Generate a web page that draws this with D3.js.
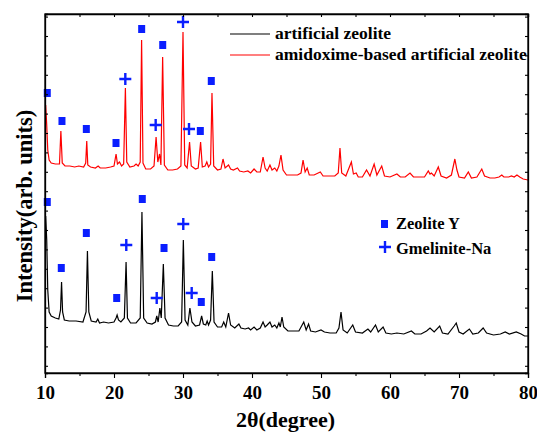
<!DOCTYPE html>
<html>
<head>
<meta charset="utf-8">
<script src="https://cdn.jsdelivr.net/npm/d3@7"></script>
<style>
  html, body { margin: 0; padding: 0; background: #fff; }
  svg { display: block; }
</style>
</head>
<body>
<div id="chart"></div>
<script>
// XRD patterns, [2θ, intensity (arb.)]
const artificialZeolite = [
  [10.1,157],[10.25,133],[10.4,83],[10.6,61],[10.9,57],[11.5,55],[12.0,54],[12.25,63],[12.4,91],[12.55,61],[12.8,53],
  [13.5,52],[14.5,52],[15.5,51],[15.95,61],[16.15,122],[16.35,61],[16.7,52],[17.4,51],[17.65,54],[17.9,50],[18.5,51],
  [19.2,50],[20.0,51],[20.3,55],[20.45,58],[20.65,53],[21.0,51],[21.5,55],[21.75,111],[21.95,55],[22.4,50],[23.2,50],
  [23.8,55],[24.05,161],[24.3,55],[24.8,50],[25.5,49],[26.0,51],[26.2,57],[26.4,51],[26.65,65],[26.85,55],[27.15,109],
  [27.4,55],[27.9,48],[28.6,47],[29.3,47],[29.8,51],[30.05,133],[30.3,53],[30.7,48],[31.0,65],[31.3,51],[31.8,47],
  [32.4,48],[32.7,57],[32.95,49],[33.3,48],[33.5,52],[33.7,48],[34.0,53],[34.25,102],[34.5,51],[35.0,46],[35.6,46],
  [35.9,51],[36.2,46],[36.6,60],[36.9,48],[37.5,45],[38.1,49],[38.4,45],[39.0,44],[39.5,45],[39.8,43],[40.3,46],
  [40.7,43],[41.2,45],[41.6,51],[41.9,46],[42.2,48],[42.6,51],[42.9,46],[43.3,48],[43.6,45],[43.9,50],[44.1,46],
  [44.35,56],[44.6,46],[45.2,42],[46.0,42],[46.8,42],[47.5,51],[47.85,43],[48.2,49],[48.5,42],[49.2,41],[50.0,43],
  [50.5,41],[51.3,40],[52.2,40],[52.6,45],[52.9,61],[53.2,43],[53.8,40],[54.6,48],[55.0,41],[56.0,40],[56.8,44],
  [57.2,41],[57.9,48],[58.3,41],[59.0,46],[59.4,40],[60.2,39],[61.0,40],[62.0,39],[63.1,42],[63.6,39],[64.5,39],
  [65.3,42],[65.8,45],[66.4,41],[67.2,47],[67.6,40],[68.4,39],[69.3,47],[69.6,50],[70.0,41],[70.6,39],[71.5,44],
  [72.0,39],[72.8,40],[73.5,45],[74.0,40],[75.0,38],[76.0,39],[76.7,41],[77.3,39],[78.3,41],[79.0,39],[79.5,37],[80.0,37]
];

const amidoximeZeolite = [
  [10.1,268],[10.25,248],[10.4,223],[10.6,213],[10.9,210],[11.5,209],[12.1,209],[12.3,242],[12.5,210],[12.9,207],
  [13.6,207],[14.3,206],[14.9,207],[15.6,206],[15.9,210],[16.05,232],[16.2,208],[16.6,206],[17.3,205],[17.7,207],
  [18.0,205],[18.8,205],[19.5,206],[20.0,207],[20.3,219],[20.5,209],[20.8,211],[21.1,207],[21.4,209],[21.65,285],
  [21.85,211],[22.3,206],[22.9,207],[23.2,209],[23.5,207],[23.8,211],[24.0,333],[24.2,210],[24.6,204],[25.3,204],
  [25.8,207],[26.1,236],[26.35,211],[26.6,219],[26.8,208],[27.05,316],[27.3,208],[27.8,203],[28.5,203],[29.2,204],
  [29.7,207],[30.0,341],[30.25,208],[30.6,205],[30.95,231],[31.2,207],[31.8,204],[32.2,205],[32.55,231],[32.8,206],
  [33.2,207],[33.45,211],[33.7,206],[34.0,209],[34.2,280],[34.45,207],[35.0,203],[35.5,204],[35.8,214],[36.1,205],
  [36.6,208],[36.9,204],[37.3,203],[37.9,205],[38.2,202],[38.8,201],[39.4,202],[39.8,200],[40.3,204],[40.7,201],
  [41.2,201],[41.6,216],[41.9,205],[42.2,202],[42.6,208],[42.9,203],[43.3,205],[43.6,202],[43.9,207],[44.2,218],
  [44.5,203],[45.0,198],[45.8,198],[46.6,198],[47.1,200],[47.4,213],[47.7,201],[48.0,205],[48.3,198],[49.0,198],
  [49.9,201],[50.3,197],[51.2,197],[52.0,197],[52.5,200],[52.75,225],[53.0,200],[53.6,197],[54.4,211],[54.7,199],
  [55.1,200],[55.4,196],[56.0,196],[56.6,203],[57.1,197],[57.7,209],[58.1,198],[58.8,207],[59.2,197],[60.0,196],
  [61.0,199],[61.5,196],[62.2,196],[62.9,200],[63.4,196],[64.2,196],[65.0,196],[65.55,202],[65.8,199],[66.0,200],
  [66.4,197],[67.0,206],[67.4,197],[68.2,195],[68.9,198],[69.4,214],[69.7,203],[70.0,196],[70.8,195],[71.35,201],
  [71.8,195],[72.6,196],[73.3,204],[73.7,197],[74.5,195],[75.2,195],[75.8,196],[76.2,198],[76.5,196],[77.2,196],
  [77.6,197],[78.0,196],[78.4,198],[78.8,196],[79.3,194],[80.0,193]
];

// phase markers [2θ, intensity]
const zeoliteYMarks = [
  [10.33,280],[12.46,252],[15.99,244],[20.29,230],[24.01,344],[27.06,328],[32.51,242],[34.1,292],
  [10.33,171],[12.36,105],[15.99,140],[20.39,75],[24.1,174],[27.25,125],[32.65,71],[34.16,116]
];
const gmeliniteMarks = [
  [21.64,294],[26.04,248],[30.0,351],[30.87,244],
  [21.78,128],[26.19,75],[30.04,149],[31.26,80]
];

const xTicks = [10, 20, 30, 40, 50, 60, 70, 80];
const seriesNames = ["artificial zeolite", "amidoxime-based artificial zeolite"];
const phaseNames = ["Zeolite Y", "Gmelinite-Na"];

const FONT = "'Liberation Serif', 'Times New Roman', 'DejaVu Serif', serif";

const width = 537, height = 436;
const margin = { top: 14, right: 9, bottom: 63, left: 45 };
const innerW = width - margin.left - margin.right;
const innerH = height - margin.top - margin.bottom;

const svg = d3.select("#chart").append("svg")
  .attr("width", width)
  .attr("height", height)
  .style("font-family", FONT)
  .style("font-weight", "bold");

const g = svg.append("g").attr("transform", `translate(${margin.left},${margin.top})`);

const x = d3.scaleLinear().domain([10, 80]).range([0, innerW]);
const y = d3.scaleLinear().domain([0, 359]).range([innerH, 0]);

const line = d3.line().x(d => x(d[0])).y(d => y(d[1]));

g.append("path").datum(artificialZeolite)
  .attr("fill", "none").attr("stroke", "#000").attr("stroke-width", 1.2)
  .attr("d", line);

g.append("path").datum(amidoximeZeolite)
  .attr("fill", "none").attr("stroke", "#ff0000").attr("stroke-width", 1.2)
  .attr("d", line);

// markers
const blue = "#0a1eff";
g.append("g").selectAll("rect").data(zeoliteYMarks).join("rect")
  .attr("x", d => x(d[0]) - 3.5)
  .attr("y", d => y(d[1]) - 4)
  .attr("width", 7).attr("height", 8)
  .attr("fill", blue);

g.append("g").selectAll("path").data(gmeliniteMarks).join("path")
  .attr("transform", d => `translate(${x(d[0])},${y(d[1])})`)
  .attr("d", "M-6,0H6M0,-6V6")
  .attr("stroke", blue).attr("stroke-width", 2.4).attr("fill", "none");

// axes
const xAxisB = d3.axisBottom(x).tickValues(d3.range(10, 81, 5))
  .tickSize(5).tickFormat(d => xTicks.includes(d) ? d : "");
const xa = g.append("g").attr("transform", `translate(0,${innerH})`).call(xAxisB);
xa.attr("font-family", null);
xa.selectAll(".tick line").attr("y2", d => xTicks.includes(d) ? 5 : 3);
xa.selectAll("text").attr("dy", 0).attr("y", 26)
  .style("font-family", FONT).style("font-weight", "bold").style("font-size", "19px");

const xAxisT = d3.axisTop(x).tickValues(d3.range(10, 81, 5)).tickSize(-3).tickFormat("");
g.append("g").call(xAxisT);

const yTickVals = d3.range(7.2, 359, 19.4);
g.append("g").call(d3.axisLeft(y).tickValues(yTickVals).tickSize(-3).tickFormat(""));
g.append("g").attr("transform", `translate(${innerW},0)`)
  .call(d3.axisRight(y).tickValues(yTickVals).tickSize(-3).tickFormat(""));

g.selectAll(".domain").attr("stroke", "#000").attr("stroke-width", 1.3);
g.selectAll(".tick line").attr("stroke", "#000").attr("stroke-width", 1.1);

g.append("rect").attr("width", innerW).attr("height", innerH)
  .attr("fill", "none").attr("stroke", "#000").attr("stroke-width", 1.3);

// axis titles
svg.append("text")
  .attr("x", margin.left + innerW / 2 - 1).attr("y", 427)
  .attr("text-anchor", "middle").style("font-size", "22px")
  .text("2θ(degree)");

svg.append("text")
  .attr("transform", `translate(32,${margin.top + 192}) rotate(-90)`)
  .attr("text-anchor", "middle").style("font-size", "22.5px")
  .text("Intensity(arb. units)");

// series legend
const legend = svg.append("g");
const lcolors = ["#000", "#ff0000"];
seriesNames.forEach((name, i) => {
  const ly = 34 + i * 21;
  legend.append("line").attr("x1", 230).attr("x2", 270).attr("y1", ly).attr("y2", ly)
    .attr("stroke", lcolors[i]).attr("stroke-width", 1.1);
  legend.append("text").attr("x", 275).attr("y", ly + 5).style("font-size", "17.5px").text(name);
});

// phase legend
const pleg = svg.append("g");
pleg.append("rect").attr("x", 381).attr("y", 220).attr("width", 7).attr("height", 8).attr("fill", blue);
pleg.append("path").attr("transform", "translate(385,247)").attr("d", "M-6,0H6M0,-6V6")
  .attr("stroke", blue).attr("stroke-width", 2.4);
phaseNames.forEach((name, i) => {
  pleg.append("text").attr("x", 396).attr("y", 229 + i * 25).style("font-size", "16.5px").text(name);
});
</script>
</body>
</html>
